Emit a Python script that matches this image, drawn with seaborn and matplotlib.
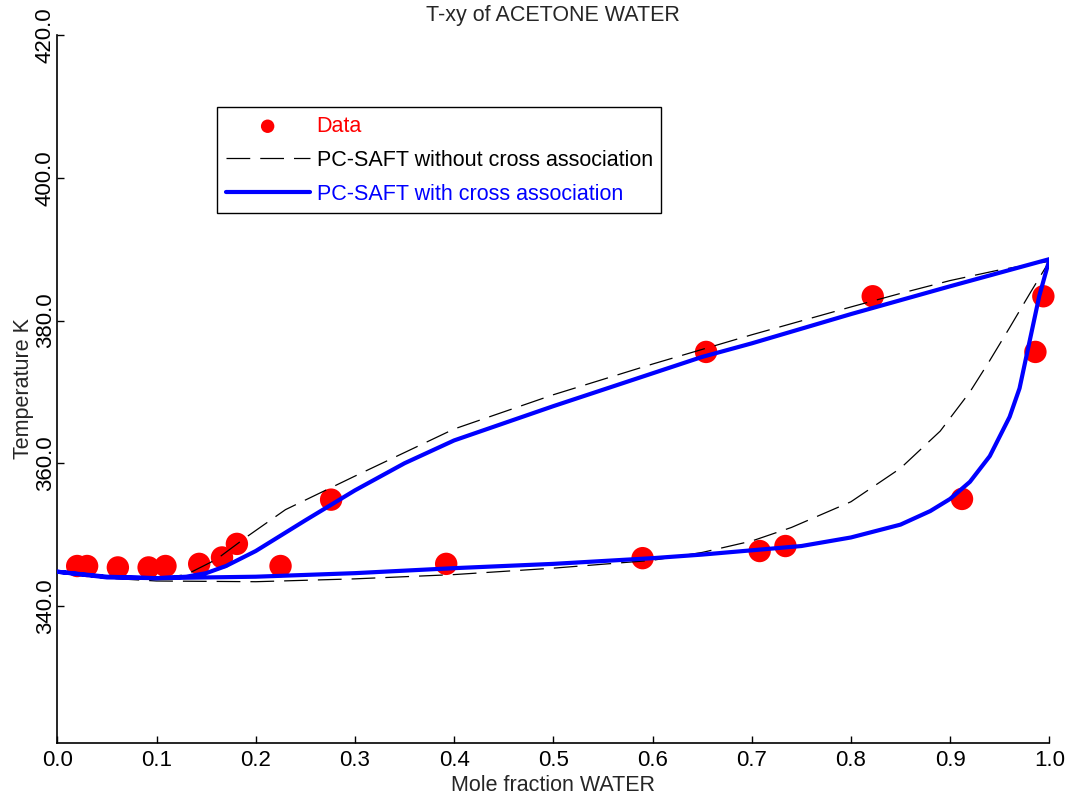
import numpy as np
import pandas as pd
import matplotlib
matplotlib.use("Agg")
import matplotlib.pyplot as plt
import seaborn as sns

# experimental points (mole fraction water, temperature K)
x_data = [0.020, 0.030, 0.061, 0.092, 0.109, 0.143, 0.166, 0.181, 0.225, 0.276,
          0.392, 0.590, 0.654, 0.708, 0.734, 0.822, 0.912, 0.986, 0.994]
T_data = [345.6, 345.6, 345.4, 345.4, 345.6, 345.9, 346.8, 348.7, 345.6, 354.9,
          345.9, 346.7, 375.6, 347.7, 348.4, 383.4, 355.0, 375.6, 383.4]

# PC-SAFT with cross association
x_dew_cross = [0.0, 0.05, 0.10, 0.13, 0.15, 0.17, 0.20, 0.25, 0.30, 0.35, 0.40,
               0.50, 0.60, 0.65, 0.70, 0.80, 0.90, 1.0]
T_dew_cross = [344.8, 344.0, 343.9, 344.1, 344.6, 345.6, 347.7, 352.0, 356.2, 360.0, 363.2,
               368.0, 372.6, 374.9, 376.8, 380.9, 384.8, 388.6]
x_bub_cross = [0.0, 0.05, 0.10, 0.20, 0.30, 0.40, 0.50, 0.60, 0.65, 0.70, 0.75,
               0.80, 0.85, 0.88, 0.90, 0.92, 0.94, 0.96, 0.97, 0.98, 0.99, 1.0]
T_bub_cross = [344.8, 344.1, 343.9, 344.1, 344.6, 345.3, 345.9, 346.7, 347.2, 347.8, 348.4,
               349.6, 351.4, 353.3, 355.0, 357.4, 361.0, 366.5, 370.5, 377.0, 383.5, 388.5]

# PC-SAFT without cross association
x_dew_nocross = [0.0, 0.05, 0.10, 0.13, 0.16, 0.19, 0.23, 0.30, 0.40, 0.50, 0.60,
                 0.70, 0.80, 0.85, 0.90, 0.95, 1.0]
T_dew_nocross = [344.8, 344.0, 343.8, 344.4, 346.5, 349.6, 353.5, 358.2, 364.8, 369.6, 373.9,
                 378.0, 381.9, 383.8, 385.6, 387.1, 388.3]
x_bub_nocross = [0.0, 0.05, 0.10, 0.20, 0.30, 0.40, 0.50, 0.60, 0.65, 0.70, 0.74,
                 0.80, 0.85, 0.89, 0.92, 0.94, 0.96, 0.98, 1.0]
T_bub_nocross = [344.8, 343.9, 343.5, 343.4, 343.8, 344.4, 345.3, 346.4, 347.5, 349.1, 351.0,
                 354.6, 359.3, 364.5, 370.0, 374.4, 379.0, 383.7, 388.3]

y_ticks = [340, 360, 380, 400, 420]
x_ticks = [0.0, 0.1, 0.2, 0.3, 0.4, 0.5, 0.6, 0.7, 0.8, 0.9, 1.0]

sns.set_style("ticks")
plt.rcParams['font.family'] = ['Liberation Sans', 'DejaVu Sans']
FS = 15.5
TICK_FS = 16

def loop(xd, td, xb, tb):
    # dew curve 0 -> 1, then bubble curve back 1 -> 0
    return pd.DataFrame({"x": list(xd) + list(xb[::-1]), "T": list(td) + list(tb[::-1])})

df_nocross = loop(x_dew_nocross, T_dew_nocross, x_bub_nocross, T_bub_nocross)
df_cross = loop(x_dew_cross, T_dew_cross, x_bub_cross, T_bub_cross)
df_data = pd.DataFrame({"x": x_data, "T": T_data})

fig = plt.figure(figsize=(10.74, 7.99), dpi=100)
ax = fig.add_axes([0.0534, 0.0701, 0.9236, 0.886])

sns.scatterplot(data=df_data, x="x", y="T", ax=ax, color="#ff0000", s=260,
                edgecolor="none", label="Data", zorder=2, clip_on=False)
sns.lineplot(data=df_nocross, x="x", y="T", ax=ax, sort=False, estimator=None,
             color="black", lw=0.9, linestyle=(0, (19, 8)),
             label="PC-SAFT without cross association", zorder=3)
sns.lineplot(data=df_cross, x="x", y="T", ax=ax, sort=False, estimator=None,
             color="#0000ff", lw=3.0, label="PC-SAFT with cross association", zorder=4)

ax.set_xlim(0, 1)
ax.set_ylim(320.8, 420)
ax.set_xticks(x_ticks)
ax.set_xticklabels([f"{v:.1f}" for v in x_ticks], fontsize=TICK_FS)
ax.set_yticks(y_ticks)
ax.set_yticklabels([f"{v:.1f}" for v in y_ticks], fontsize=TICK_FS, rotation=90, va="center")
ax.tick_params(direction="in", length=5, width=1, colors="black")
ax.tick_params(axis="x", pad=5)
ax.tick_params(axis="y", pad=1)
for s in ["top", "right"]:
    ax.spines[s].set_visible(False)
for s in ["left", "bottom"]:
    ax.spines[s].set_linewidth(1.2)
    ax.spines[s].set_color("black")

ax.set_title("T-xy of ACETONE WATER", fontsize=FS, pad=10)
ax.set_xlabel("Mole fraction WATER", fontsize=FS, labelpad=3)
ax.set_ylabel("Temperature K", fontsize=FS, labelpad=1)

leg = ax.legend(loc="upper left", bbox_to_anchor=(0.161, 0.898), borderaxespad=0,
                fontsize=FS, frameon=True, fancybox=False, edgecolor="black",
                framealpha=1, handlelength=3.9, handletextpad=0.33,
                markerscale=0.6, borderpad=0.4, labelspacing=0.6)
leg.get_frame().set_linewidth(1.0)
for txt, c in zip(leg.get_texts(), ["#ff0000", "black", "#0000ff"]):
    txt.set_color(c)

fig.savefig("out.png", dpi=100)
